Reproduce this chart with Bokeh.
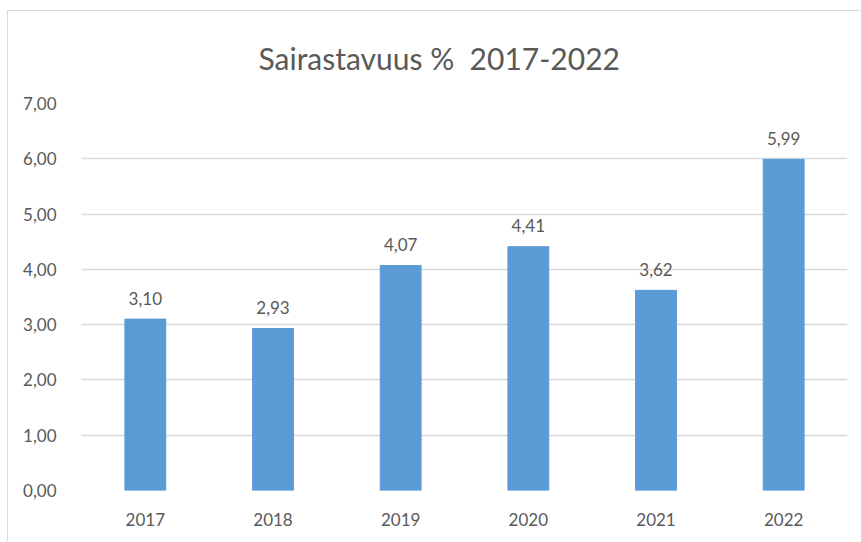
from bokeh.plotting import figure
from bokeh.models import ColumnDataSource, CustomJSTickFormatter
from bokeh.core.properties import value
from bokeh.embed import file_html
from bokeh.resources import INLINE

years = ["2017", "2018", "2019", "2020", "2021", "2022"]
values = [3.10, 2.93, 4.07, 4.41, 3.62, 5.99]
labels = [f"{v:.2f}".replace(".", ",") for v in values]
title_text = "Sairastavuus %\u00a0 2017-2022"

FONT = "Lato"
TXT = "#595959"
GRID = "#d9d9d9"
BAR = "#5b9bd5"

src = ColumnDataSource(dict(x=years, top=values, lab=labels))

p = figure(x_range=years, y_range=(0, 7), width=853, height=531,
           output_backend="svg", toolbar_location=None, title=title_text,
           min_border_left=73, min_border_right=14, min_border_top=92, min_border_bottom=52)
p.vbar(x="x", top="top", width=0.32, source=src, color=BAR)
p.text(x="x", y="top", text="lab", source=src, text_align="center", text_baseline="alphabetic",
       y_offset=-21, text_font=value(FONT), text_font_size="17px", text_color=TXT)

p.title.align = "left"
p.title.vertical_align = "top"
p.title.offset = 177
p.title.standoff = 51
p.title.text_font = FONT
p.title.text_font_size = "30px"
p.title.text_font_style = "normal"
p.title.text_color = TXT

p.outline_line_color = None
p.xgrid.grid_line_color = None
p.ygrid.grid_line_color = GRID
p.ygrid.grid_line_width = 1.5

p.yaxis.formatter = CustomJSTickFormatter(code="return tick.toFixed(2).replace('.', ',');")
p.yaxis.ticker = [0, 1, 2, 3, 4, 5, 6, 7]
for ax in (p.xaxis, p.yaxis):
    ax.axis_line_color = None
    ax.major_tick_line_color = None
    ax.minor_tick_line_color = None
    ax.major_label_text_font = FONT
    ax.major_label_text_font_size = "17px"
    ax.major_label_text_color = TXT
p.yaxis.major_label_standoff = 19
p.xaxis.major_label_standoff = 16

p.styles = {"margin-left": "7px", "margin-top": "10px",
            "border-left": "1px solid #d9d9d9", "border-top": "1px solid #d9d9d9"}

open("out.html", "w").write(file_html(p, INLINE))
